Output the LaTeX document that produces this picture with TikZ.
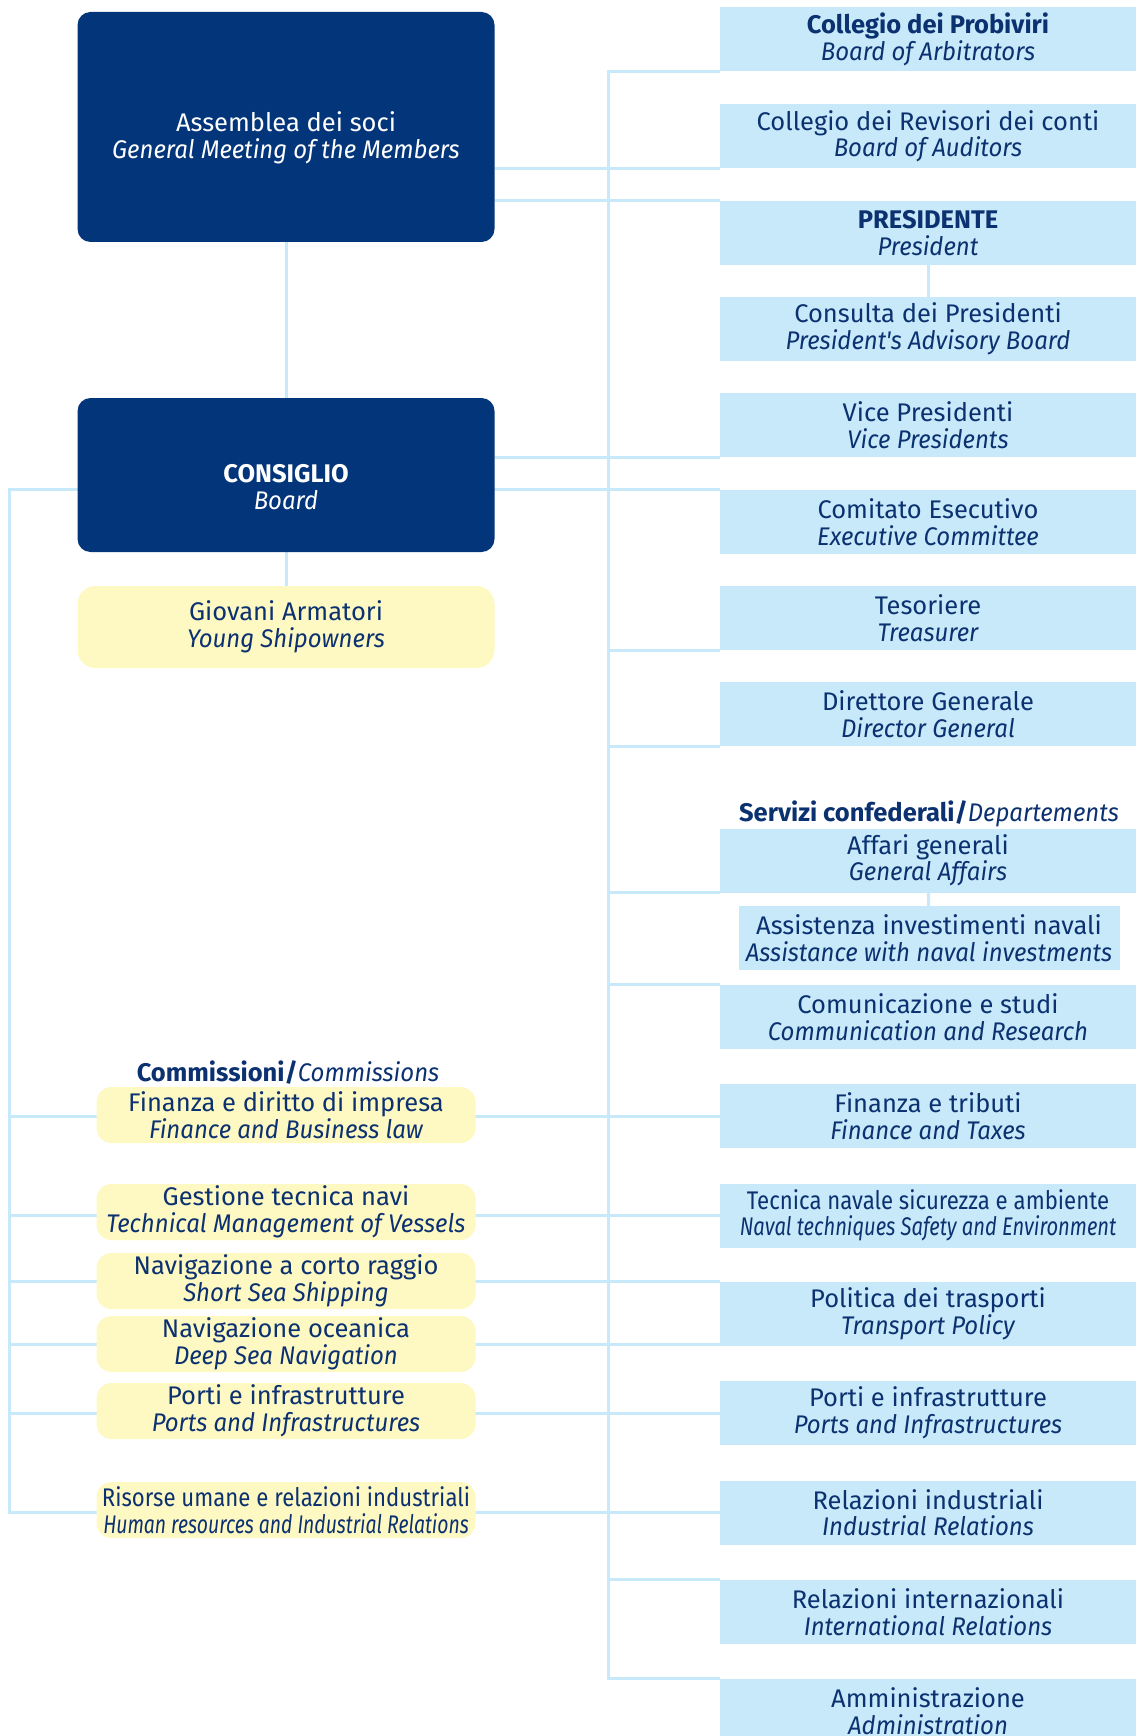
\documentclass[tikz,border=0pt]{standalone}
\usepackage{fontspec}
\setmainfont{Fira Sans}
\newfontfamily\engfont[FakeStretch=0.94]{Fira Sans}
\newfontfamily\narrowup[FakeStretch=0.87]{Fira Sans}
\newfontfamily\narrowit[FakeStretch=0.79]{Fira Sans}
\newfontfamily\narrowerit[FakeStretch=0.76]{Fira Sans}
\newcommand\eng[1]{{\engfont\itshape #1}}
\usetikzlibrary{backgrounds}
\definecolor{navy}{HTML}{03357A}
\definecolor{ink}{HTML}{0B3170}
\definecolor{sky}{HTML}{C7E9F9}
\definecolor{cream}{HTML}{FEF8C2}

\begin{document}
\begin{tikzpicture}[x=1pt, y=-1pt,
  every node/.style={font=\fontsize{25.5}{26.5}\selectfont, align=center, inner sep=0pt},
  darkbox/.style={fill=navy, rounded corners=13pt, minimum width=417pt},
  skybox/.style={fill=sky, text=ink, minimum width=416pt, minimum height=64pt},
  creambox/.style={fill=cream, text=ink, rounded corners=15pt, minimum width=379pt, minimum height=56pt},
  heading/.style={text=ink},
  link/.style={draw=sky, line width=3pt}]
  \useasboundingbox (0,0) rectangle (1136,1736);

  \node[darkbox, minimum height=230pt] (assemblea) at (286,127) {};
  \node[text=white] (assemblealabel) at (286,138) {Assemblea dei soci\\\eng{General Meeting of the Members}};
  \node[darkbox, minimum height=154pt] (consiglio) at (286,475) {};
  \node[text=white] (consigliolabel) at (286,487) {\textbf{CONSIGLIO}\\\eng{Board}};
  \node[creambox, rounded corners=18pt, minimum width=417pt, minimum height=82pt] (giovani) at (286,627) {Giovani Armatori\\\eng{Young Shipowners}};

  \node[heading] (commissioni) at (288,1073) {\textbf{Commissioni/}\eng{Commissions}};
  \node[creambox] (finanza) at (286,1115) {Finanza e diritto di impresa\\\eng{Finance and Business law}};
  \node[creambox] (gestione) at (286,1212) {Gestione tecnica navi\\\eng{Technical Management of Vessels}};
  \node[creambox] (corto) at (286,1281) {Navigazione a corto raggio\\\eng{Short Sea Shipping}};
  \node[creambox] (oceanica) at (286,1344) {Navigazione oceanica\\\eng{Deep Sea Navigation}};
  \node[creambox] (portil) at (286,1411) {Porti e infrastrutture\\\eng{Ports and Infrastructures}};
  \node[creambox] (risorse) at (286,1510) {{\narrowup Risorse umane e relazioni industriali}\\{\narrowerit\itshape Human resources and Industrial Relations}};

  \node[skybox] (probiviri) at (928,39.5) {\textbf{Collegio dei Probiviri}\\\eng{Board of Arbitrators}};
  \node[skybox] (revisori) at (928,136.5) {Collegio dei Revisori dei conti\\\eng{Board of Auditors}};
  \node[skybox] (presidente) at (928,233) {\textbf{PRESIDENTE}\\\eng{President}};
  \node[skybox] (consulta) at (928,329) {Consulta dei Presidenti\\\eng{President's Advisory Board}};
  \node[skybox] (vice) at (928,425) {Vice Presidenti\\\eng{Vice Presidents}};
  \node[skybox] (comitato) at (928,522) {Comitato Esecutivo\\\eng{Executive Committee}};
  \node[skybox] (tesoriere) at (928,618) {Tesoriere\\\eng{Treasurer}};
  \node[skybox] (direttore) at (928,714) {Direttore Generale\\\eng{Director General}};
  \node[heading] (servizi) at (929,814) {\textbf{Servizi confederali/}\eng{Departements}};
  \node[skybox] (affari) at (928,860.5) {Affari generali\\\eng{General Affairs}};
  \node[skybox, minimum width=381pt] (assistenza) at (929,938) {Assistenza investimenti navali\\\eng{Assistance with naval investments}};
  \node[skybox] (comunicazione) at (928,1017) {Comunicazione e studi\\\eng{Communication and Research}};
  \node[skybox] (fintributi) at (928,1116) {Finanza e tributi\\\eng{Finance and Taxes}};
  \node[skybox] (tecnica) at (928,1215.5) {{\narrowup Tecnica navale sicurezza e ambiente}\\{\narrowit\itshape Naval techniques Safety and Environment}};
  \node[skybox] (politica) at (928,1314) {Politica dei trasporti\\\eng{Transport Policy}};
  \node[skybox] (portir) at (928,1413) {Porti e infrastrutture\\\eng{Ports and Infrastructures}};
  \node[skybox] (relind) at (928,1512.5) {Relazioni industriali\\\eng{Industrial Relations}};
  \node[skybox] (relint) at (928,1612) {Relazioni internazionali\\\eng{International Relations}};
  \node[skybox] (amministrazione) at (928,1711) {Amministrazione\\\eng{Administration}};

  \coordinate (spinex) at (608,0);
  \coordinate (leftx) at (9,0);

  \begin{scope}[on background layer]
    \draw[link] (probiviri.south west) -- (probiviri.south west -| spinex) -- (amministrazione.north west -| spinex) -- (amministrazione.north west);
    \draw[link] (assemblea.east |- revisori.south west) -- (revisori.south west);
    \draw[link] (assemblea.east |- presidente.north west) -- (presidente.north west);
    \draw[link] (assemblea) -- (consiglio) -- (giovani);
    \draw[link] (presidente) -- (consulta);
    \draw[link] (consiglio.east |- vice.south west) -- (vice.south west);
    \draw[link] (comitato.north west) -- (comitato.north west -| leftx) -- (relind.west -| leftx) -- (relind.west);
    \foreach \n in {tesoriere, direttore, affari}
      \draw[link] (\n.south west -| spinex) -- (\n.south west);
    \foreach \n in {comunicazione, relint}
      \draw[link] (\n.north west -| spinex) -- (\n.north west);
    \draw[link] (affari) -- (assistenza);
    \foreach \n in {fintributi, tecnica, portir}
      \draw[link] (\n.west -| leftx) -- (\n.west);
    \draw[link] (politica.north west -| leftx) -- (politica.north west);
    \draw[link] (oceanica.west -| leftx) -- (oceanica.west -| politica.west);
  \end{scope}
\end{tikzpicture}
\end{document}
